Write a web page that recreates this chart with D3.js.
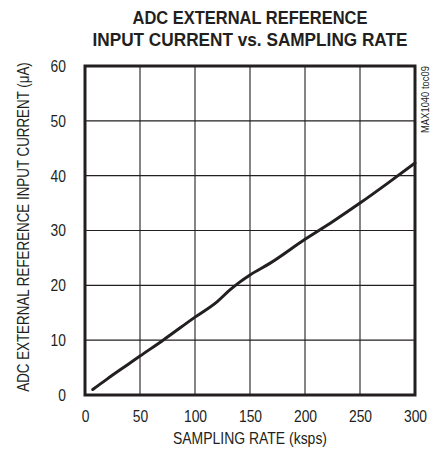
<!DOCTYPE html>
<html>
<head>
<meta charset="utf-8">
<script src="https://cdn.jsdelivr.net/npm/d3@7"></script>
<style>
  body { margin: 0; background: #fff; }
  text { font-family: "Liberation Sans Narrow", "Liberation Sans", Arial, sans-serif; fill: #231f20; }
</style>
</head>
<body>
<div id="wrapper"></div>
<script>
// sampling rate (ksps) vs ADC external reference input current (uA)
const samplingRate = [7, 20, 40, 50, 71, 100, 120, 132, 140, 150, 168, 200, 225, 250, 275, 300];
const inputCurrent = [1.0, 2.9, 5.7, 7.1, 10.0, 14.2, 17.0, 19.2, 20.5, 21.9, 24.0, 28.4, 31.6, 35.0, 38.6, 42.3];
const xTicks = [0, 50, 100, 150, 200, 250, 300];
const yTicks = [0, 10, 20, 30, 40, 50, 60];
const titleLines = ["ADC EXTERNAL REFERENCE", "INPUT CURRENT vs. SAMPLING RATE"];

function buildPlot(){
    const dimension = {
        width: 443,
        height: 454,
        margin: { left: 85, right: 28, top: 66, bottom: 59 }
    };

    const svg = d3.select("#wrapper").append("svg")
        .attr("width", dimension.width)
        .attr("height", dimension.height);

    const x_scaler = d3.scaleLinear()
        .domain([0, 300])
        .range([dimension.margin.left, dimension.width - dimension.margin.right]);
    const y_scaler = d3.scaleLinear()
        .domain([0, 60])
        .range([dimension.height - dimension.margin.bottom, dimension.margin.top]);

    // title (condensed look via textLength)
    const titleWidths = [235, 315];
    svg.append("g").selectAll("text")
        .data(titleLines)
        .join("text")
        .attr("x", 250)
        .attr("y", (d, i) => 23.5 + i * 22)
        .attr("text-anchor", "middle")
        .attr("textLength", (d, i) => titleWidths[i])
        .attr("lengthAdjust", "spacingAndGlyphs")
        .style("font-size", "19px")
        .style("font-weight", "bold")
        .text(d => d);

    // grid
    const grid = svg.append("g").attr("stroke", "#231f20").attr("stroke-width", 1.1);
    grid.selectAll(".vx")
        .data(xTicks.slice(1, -1))
        .join("line")
        .attr("class", "vx")
        .attr("x1", d => x_scaler(d)).attr("x2", d => x_scaler(d))
        .attr("y1", y_scaler(0)).attr("y2", y_scaler(60));
    grid.selectAll(".hy")
        .data(yTicks.slice(1, -1))
        .join("line")
        .attr("class", "hy")
        .attr("x1", x_scaler(0)).attr("x2", x_scaler(300))
        .attr("y1", d => y_scaler(d)).attr("y2", d => y_scaler(d));

    // frame
    svg.append("rect")
        .attr("x", x_scaler(0)).attr("y", y_scaler(60))
        .attr("width", x_scaler(300) - x_scaler(0))
        .attr("height", y_scaler(0) - y_scaler(60))
        .attr("fill", "none")
        .attr("stroke", "#231f20")
        .attr("stroke-width", 3);

    // axes (labels only)
    const x_axis = d3.axisBottom(x_scaler).tickValues(xTicks).tickSize(0).tickPadding(15);
    const y_axis = d3.axisLeft(y_scaler).tickValues(yTicks).tickSize(0).tickPadding(19);

    const gx = svg.append("g")
        .attr("transform", `translate(0,${y_scaler(0)})`)
        .call(x_axis);
    const gy = svg.append("g")
        .attr("transform", `translate(${x_scaler(0)},0)`)
        .call(y_axis);
    [gx, gy].forEach(g => {
        g.select(".domain").remove();
        g.selectAll("text")
            .attr("font-family", null)
            .attr("fill", "#231f20")
            .attr("textLength", function(){ return this.textContent.length * 7.7; })
            .attr("lengthAdjust", "spacingAndGlyphs")
            .style("font-size", "17px");
    });

    // curve
    const line = d3.line()
        .curve(d3.curveMonotoneX)
        .x((d, i) => x_scaler(samplingRate[i]))
        .y(d => y_scaler(d));
    svg.append("path")
        .attr("fill", "none")
        .attr("stroke", "#231f20")
        .attr("stroke-width", 3)
        .attr("stroke-linecap", "round")
        .attr("d", line(inputCurrent));

    // axis titles
    svg.append("text")
        .attr("x", (x_scaler(0) + x_scaler(300)) / 2)
        .attr("y", 444)
        .attr("text-anchor", "middle")
        .attr("textLength", 154)
        .attr("lengthAdjust", "spacingAndGlyphs")
        .style("font-size", "16.5px")
        .text("SAMPLING RATE (ksps)");

    // y title: squeeze horizontally with a scale so it spans the plot height
    const yTitle = svg.append("text")
        .attr("text-anchor", "middle")
        .style("font-size", "16.5px")
        .text("ADC EXTERNAL REFERENCE INPUT CURRENT (\u03BCA)");
    const squeeze = 330 / yTitle.node().getComputedTextLength();
    yTitle.attr("transform", `translate(29, 227) rotate(-90) scale(${squeeze}, 1)`);

    // figure id, reads bottom to top
    svg.append("text")
        .attr("transform", `translate(429, 133) rotate(-90)`)
        .attr("text-anchor", "start")
        .attr("textLength", 67)
        .attr("lengthAdjust", "spacingAndGlyphs")
        .style("font-size", "10px")
        .text("MAX1040 toc09");
}
buildPlot();
</script>
</body>
</html>
